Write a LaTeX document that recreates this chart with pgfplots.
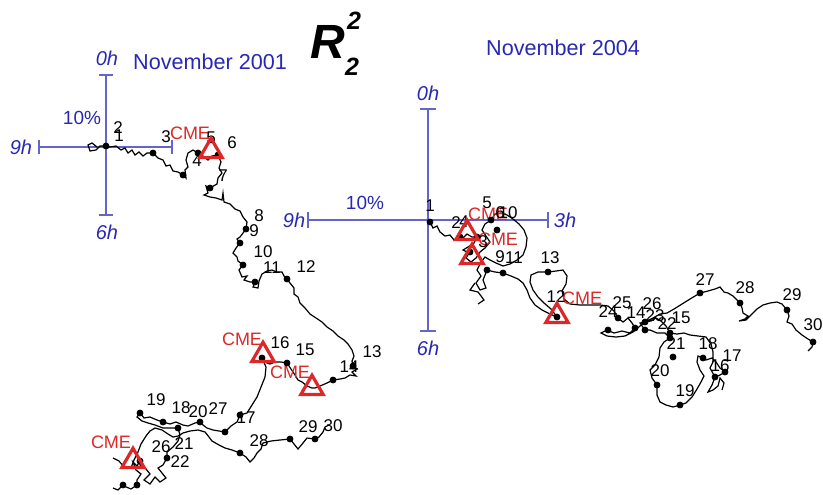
\documentclass[border=0pt]{standalone}
\usepackage{pgfplots}
\pgfplotsset{compat=1.18}
\usepackage{fontspec}
\setmainfont{Liberation Sans}
\definecolor{tblue}{RGB}{40,40,180}
\definecolor{lblue}{RGB}{100,100,205}
\definecolor{cred}{RGB}{220,40,40}
\begin{document}
\begin{tikzpicture}
\begin{axis}[scale only axis, width=411.5pt, height=247pt,
  xmin=0, xmax=823, ymin=0, ymax=494, y dir=reverse, hide axis, clip=false]
% ---------- crosshairs ----------
\addplot[lblue, line width=1pt] coordinates {(39,147) (172,147)};
\addplot[lblue, line width=1pt] coordinates {(106,75) (106,215)};
\addplot[lblue, line width=1pt] coordinates {(39,140) (39,154)};
\addplot[lblue, line width=1pt] coordinates {(172,140) (172,154)};
\addplot[lblue, line width=1pt] coordinates {(99,75) (113,75)};
\addplot[lblue, line width=1pt] coordinates {(99,215) (113,215)};
\addplot[lblue, line width=1pt] coordinates {(308,220) (548,220)};
\addplot[lblue, line width=1pt] coordinates {(428,109) (428,331)};
\addplot[lblue, line width=1pt] coordinates {(308,212) (308,228)};
\addplot[lblue, line width=1pt] coordinates {(548,212) (548,228)};
\addplot[lblue, line width=1pt] coordinates {(420,109) (436,109)};
\addplot[lblue, line width=1pt] coordinates {(420,331) (436,331)};
% ---------- November 2001 trajectory ----------
\addplot[black, line width=0.6pt] coordinates {
(97,147) (92,143) (88,145) (90,151) (96,150) (100,146) (106,146) (110,147) (116,146) (121,150) (125,148) (128,153) (132,150) (135,155) (139,152) (143,156) (147,153) (153,153) (158,158) (163,160) (166,166) (170,165) (173,171) (178,172) (183,175) (186,178) (185,170) (188,167) (186,160) (188,153) (193,150) (198,153) (203,156) (208,160) (212,156) (218,155) (221,162) (219,168) (222,173) (218,178) (217,184) (210,188) (206,186) (208,193) (204,195) (210,197) (216,198) (222,200) (223,193) (224,202) (230,204) (235,209) (240,211) (243,217) (247,222) (246,229) (243,233) (240,237) (237,239) (240,243) (236,248) (233,253) (237,257) (238,261) (243,265) (239,270) (242,277) (247,276) (244,280) (250,282) (255,282) (253,287) (258,288) (259,281) (262,274) (267,271) (272,270) (277,272) (282,272) (284,276) (287,279) (290,283) (294,288) (294,294) (298,297) (300,303) (305,308) (310,314) (316,318) (322,322) (327,327) (333,331) (338,336) (344,340) (348,344) (352,350) (354,356) (352,361) (353,366) (357,369) (352,372) (356,376) (350,375) (345,378) (340,379) (333,380) (327,383) (320,386) (315,388) (312,388) (307,386) (302,382) (298,380) (295,375) (291,369) (287,363) (281,362) (275,362) (270,364) (267,363) (262,358) (266,367) (265,377) (261,387) (257,397) (252,405) (247,413) (240,415) (237,422) (231,426) (225,432) (219,431) (213,430) (207,428) (203,425) (200,422) (195,423) (188,426) (183,425) (176,422) (170,424) (163,422) (157,420) (150,417) (144,418) (140,413) (137,417) (142,421) (148,423) (155,425) (163,428) (170,428) (178,428) (180,435) (178,441) (173,447) (167,452) (167,458) (163,465) (158,468) (162,473) (166,478) (160,482) (155,477) (150,484) (144,480) (150,474) (146,469) (140,465) (140,461) (137,466) (133,462) (136,470) (141,474) (137,480) (137,485) (131,489) (124,486) (123,485) (118,490) (113,488)
};
\addplot[black, line width=0.6pt] coordinates {
(113,458) (119,461) (124,467) (131,468) (134,460) (138,452) (141,444) (146,436) (150,431) (155,428) (162,430) (168,434) (173,437) (178,436) (183,433) (190,431) (198,430) (205,432) (209,437) (212,441) (219,445) (225,448) (232,450) (240,453) (246,457) (250,462) (254,458) (257,453) (261,449) (263,443) (271,441) (280,440) (290,439) (294,444) (298,449) (303,443) (307,438) (315,439) (319,437) (323,432) (325,427) (329,425)
};
\addplot[black, only marks, mark=*, mark size=1.5pt] coordinates {
(106,146) (153,153) (183,175) (198,153) (218,155) (210,188) (246,229) (240,243) (243,265) (255,282) (287,279) (353,366) (333,380) (287,363) (262,358) (240,415) (225,432) (200,422) (178,428) (163,422) (140,413) (167,458) (140,461) (123,485) (137,485) (240,453) (290,439) (315,439)
};
% ---------- November 2004 trajectory ----------
\addplot[black, line width=0.6pt] coordinates {
(430,222) (433,228) (437,226) (440,232) (445,236) (450,235) (454,240) (458,237) (463,238) (467,234) (472,237) (477,237) (474,243) (468,247) (463,250) (469,253) (466,258) (471,262) (476,258) (480,252) (485,248) (490,242) (486,236) (482,230) (485,224) (491,220) (495,214) (501,213) (507,215) (513,219) (519,224) (524,230) (527,238) (526,247) (523,255) (517,260) (510,264) (503,266) (496,263) (490,260) (485,257) (481,262) (477,270) (481,276) (476,283) (480,290) (486,288) (483,280) (487,270) (495,272) (503,273) (511,276) (518,279) (523,283) (527,290) (530,298) (535,305) (542,310) (550,314) (557,317) (551,309) (544,303) (538,297) (533,290) (530,282) (531,275) (538,272) (548,272) (556,271) (563,270) (567,276) (566,284) (562,291) (564,299) (570,304) (580,305) (590,305) (600,305) (608,306) (614,311) (618,318) (623,322) (628,318) (632,323) (635,328) (630,333) (622,331) (614,333) (607,330) (601,333) (607,336) (616,337) (625,336) (633,332) (640,326) (645,322) (651,321) (656,318) (661,321) (666,326) (670,333) (677,334) (684,333) (690,335) (698,336) (706,337) (711,344) (713,352) (713,362) (710,368) (715,377) (720,375) (725,372) (720,368) (716,362) (712,358) (706,360) (703,358) (698,356) (697,362) (700,370) (704,376) (701,382) (697,389) (692,397) (686,403) (680,405) (673,407) (666,405) (660,402) (657,395) (657,385) (652,378) (650,370) (655,365) (659,357) (660,348) (664,342) (670,338) (665,333) (657,333) (650,330) (645,330) (640,323) (645,322) (653,318) (660,314) (667,313) (674,309) (682,304) (690,299) (700,293) (708,291) (715,289) (720,287) (724,292) (728,293) (733,296) (737,300) (740,303) (742,308) (743,313) (748,316) (745,319) (739,321) (746,320) (752,314) (757,309) (763,305) (770,303) (777,302) (782,304) (787,310) (789,316) (787,322) (792,324) (796,330) (802,335) (808,339) (813,342) (812,347) (808,351)
};
\addplot[black, line width=0.6pt] coordinates {
(715,377) (712,385) (708,392) (713,390) (718,386) (720,378) (724,383) (722,390)
};
\addplot[black, line width=0.6pt] coordinates {
(475,283) (470,290) (478,292) (484,300) (478,304)
};
\addplot[black, only marks, mark=*, mark size=1.5pt] coordinates {
(430,222) (460,237) (477,237) (470,252) (491,220) (497,230) (487,270) (503,273) (548,272) (557,317) (618,318) (608,330) (635,328) (645,322) (645,330) (670,333) (670,338) (700,293) (740,303) (787,310) (813,342) (673,357) (657,385) (680,405) (703,358) (725,372) (715,377)
};
% ---------- CME triangles ----------
\addplot[cred, only marks, mark=triangle, mark size=6.4pt, mark options={line width=1.6pt}] coordinates {
(211,151) (263,355) (312,388) (133,461) (467,233) (472,257) (557,316)
};
% ---------- text ----------
\node[tblue, font=\fontsize{10}{10}\selectfont\itshape] at (axis cs:107,58) {0h};
\node[tblue, font=\fontsize{10}{10}\selectfont\itshape] at (axis cs:107,232) {6h};
\node[tblue, font=\fontsize{10}{10}\selectfont\itshape] at (axis cs:21,147) {9h};
\node[tblue, font=\fontsize{9.5}{9.5}\selectfont] at (axis cs:82,118) {10\%};
\node[tblue, font=\fontsize{10.8}{10.8}\selectfont] at (axis cs:210,62) {November 2001};
\node[tblue, font=\fontsize{10}{10}\selectfont\itshape] at (axis cs:428,93) {0h};
\node[tblue, font=\fontsize{10}{10}\selectfont\itshape] at (axis cs:428,348) {6h};
\node[tblue, font=\fontsize{10}{10}\selectfont\itshape] at (axis cs:294,220) {9h};
\node[tblue, font=\fontsize{10}{10}\selectfont\itshape] at (axis cs:565,220) {3h};
\node[tblue, font=\fontsize{9.5}{9.5}\selectfont] at (axis cs:365,203) {10\%};
\node[tblue, font=\fontsize{10.8}{10.8}\selectfont] at (axis cs:563,48) {November 2004};
\node[black, font=\fontsize{24}{24}\selectfont\bfseries\itshape] at (axis cs:328,42) {R};
\node[black, font=\fontsize{12.5}{12.5}\selectfont\bfseries\itshape] at (axis cs:354,21) {2};
\node[black, font=\fontsize{12.5}{12.5}\selectfont\bfseries\itshape] at (axis cs:352,67) {2};
% CME labels
\begin{scope}[every node/.style={cred, inner sep=0.5pt, font=\fontsize{9}{9}\selectfont}]
\node at (axis cs:190,133) {CME};
\node at (axis cs:242,339) {CME};
\node at (axis cs:290,372) {CME};
\node at (axis cs:111,442) {CME};
\node at (axis cs:488,214) {CME};
\node at (axis cs:498,239) {CME};
\node at (axis cs:582,298) {CME};
\end{scope}
% day labels
\begin{scope}[every node/.style={black, inner sep=0.5pt, font=\fontsize{8.5}{8.5}\selectfont}]
\node at (axis cs:118,128) {2};
\node at (axis cs:119,136) {1};
\node at (axis cs:166,137) {3};
\node at (axis cs:197,161) {4};
\node at (axis cs:211,138) {5};
\node at (axis cs:232,143) {6};
\node at (axis cs:223,176) {7};
\node at (axis cs:259,216) {8};
\node at (axis cs:254,231) {9};
\node at (axis cs:263,252) {10};
\node at (axis cs:272,268) {11};
\node at (axis cs:306,267) {12};
\node at (axis cs:372,352) {13};
\node at (axis cs:349,367) {14};
\node at (axis cs:305,350) {15};
\node at (axis cs:280,343) {16};
\node at (axis cs:246,418) {17};
\node at (axis cs:181,408) {18};
\node at (axis cs:156,400) {19};
\node at (axis cs:198,412) {20};
\node at (axis cs:184,444) {21};
\node at (axis cs:180,462) {22};
\node at (axis cs:161,447) {26};
\node at (axis cs:218,409) {27};
\node at (axis cs:259,441) {28};
\node at (axis cs:308,427) {29};
\node at (axis cs:333,426) {30};
% 2004
\node at (axis cs:430,206) {1};
\node at (axis cs:456,223) {2};
\node at (axis cs:464,222) {4};
\node at (axis cs:487,203) {5};
\node at (axis cs:500,213) {6};
\node at (axis cs:508,213) {10};
\node at (axis cs:483,242) {3};
\node at (axis cs:500,257) {9};
\node at (axis cs:514,258) {11};
\node at (axis cs:550,258) {13};
\node at (axis cs:556,297) {12};
\node at (axis cs:608,312) {24};
\node at (axis cs:622,303) {25};
\node at (axis cs:636,313) {14};
\node at (axis cs:652,304) {26};
\node at (axis cs:655,316) {23};
\node at (axis cs:667,324) {22};
\node at (axis cs:681,318) {15};
\node at (axis cs:676,344) {21};
\node at (axis cs:705,280) {27};
\node at (axis cs:745,288) {28};
\node at (axis cs:792,295) {29};
\node at (axis cs:813,325) {30};
\node at (axis cs:708,344) {18};
\node at (axis cs:732,356) {17};
\node at (axis cs:720,366) {16};
\node at (axis cs:660,371) {20};
\node at (axis cs:685,391) {19};
\end{scope}
\end{axis}
\pgfresetboundingbox
\path (current axis.south west) rectangle (current axis.north east);
\end{tikzpicture}
\end{document}
